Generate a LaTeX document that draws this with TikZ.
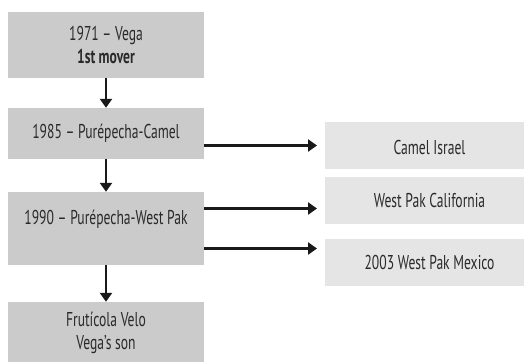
\documentclass[tikz,border=0pt]{standalone}
\usepackage{fontspec}
\setmainfont{PT Sans}[FakeStretch=0.68]
\usetikzlibrary{arrows.meta}
\definecolor{boxdark}{HTML}{CBCBCB}
\definecolor{boxlight}{HTML}{E5E5E5}
\definecolor{txt}{HTML}{2A2A2A}
\begin{document}
\begin{tikzpicture}[x=1pt,y=-1pt,
  leftbox/.style={fill=boxdark,draw=none,minimum width=196pt,inner sep=0pt,align=center,text=txt,font=\fontsize{20}{23.5}\selectfont},
  rightbox/.style={fill=boxlight,draw=none,minimum width=209pt,inner sep=0pt,align=center,text=txt,font=\fontsize{20}{23.5}\selectfont},
  arr/.style={line width=2.4pt,draw=black!90,-{Triangle[width=12pt,length=9pt]}}]
\clip (0,0) rectangle (524,361);
\node[leftbox,minimum height=66pt] (b1) at (106,45) {1971 -- Vega\\\textbf{1st mover}};
\node[leftbox,minimum height=51pt] (b2) at (106,133.5) {1985 -- Purépecha-Camel};
\node[leftbox,minimum height=73pt] (b3) at (106,228.5) {\raisebox{9pt}[\height][\depth]{1990 -- Purépecha-West Pak}};
\node[leftbox,minimum height=62pt] (b4) at (106,333) {Frutícola Velo\\Vega’s son};
\node[rightbox,minimum height=47pt] (r1) at (429.5,145.5) {\raisebox{-2pt}[\height][\depth]{Camel Israel}};
\node[rightbox,minimum height=47pt] (r2) at (429.5,200.5) {West Pak California};
\node[rightbox,minimum height=47pt] (r3) at (429.5,262.5) {2003 West Pak Mexico};
\coordinate (t1) at (317,145.5);
\coordinate (t2) at (317,208.5);
\coordinate (t3) at (317,248.5);
\draw[arr] (b1.south) -- (b2.north);
\draw[arr] (b2.south) -- (b3.north);
\draw[arr] (b3.south) -- (b4.north);
\draw[arr] (b2.east |- t1) -- (t1);
\draw[arr] (b3.east |- t2) -- (t2);
\draw[arr] (b3.east |- t3) -- (t3);
\end{tikzpicture}
\end{document}
